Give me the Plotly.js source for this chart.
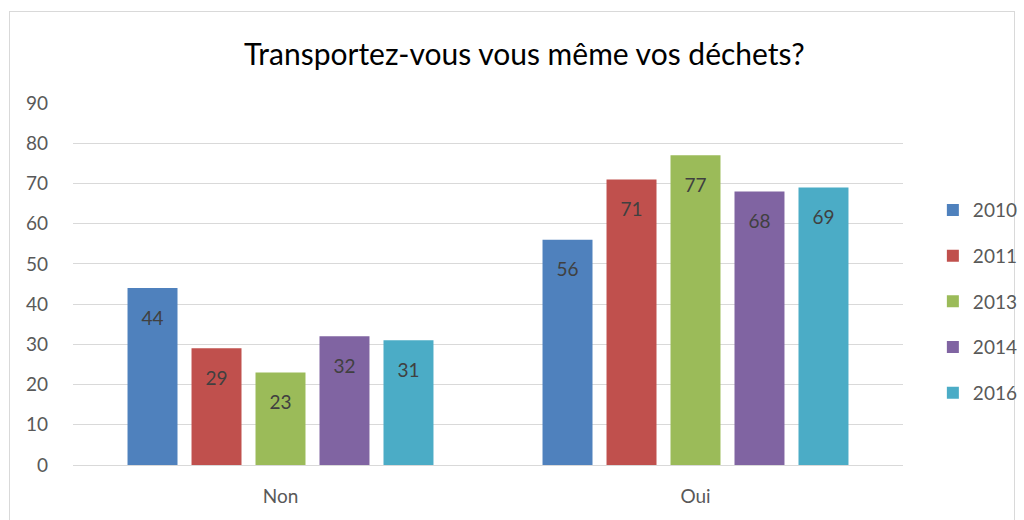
<!DOCTYPE html>
<html>
<head>
<meta charset="utf-8">
<script src="https://cdn.plot.ly/plotly-3.0.1.min.js"></script>
<style>
html,body{margin:0;padding:0;background:#fff;}
#frame{position:absolute;left:9px;top:11px;width:1006px;height:515px;border:1px solid #D9D9D9;box-sizing:border-box;}
#chart{position:absolute;left:0;top:0;width:1024px;height:520px;}
</style>
</head>
<body>
<div id="frame"></div>
<div id="chart"></div>
<script>
const categories = ["Non", "Oui"];
const years = ["2010", "2011", "2013", "2014", "2016"];
const v2010 = [44, 56];
const v2011 = [29, 71];
const v2013 = [23, 77];
const v2014 = [32, 68];
const v2016 = [31, 69];
const seriesValues = [v2010, v2011, v2013, v2014, v2016];
const colors = ["#4F81BD", "#C0504D", "#9BBB59", "#8064A2", "#4BACC6"];
const FONT = "Lato, 'Open Sans', sans-serif";

const traces = years.map((y, i) => ({
  type: "bar",
  name: y,
  x: categories,
  y: seriesValues[i],
  marker: {color: colors[i]},
  texttemplate: "<span style='font-size:9px'>\u00a0</span><br>%{y}",
  textposition: "inside",
  insidetextanchor: "end",
  textangle: 0,
  constraintext: "none",
  textfont: {family: FONT, size: 19, color: "#404040"},
  legendgroup: y,
  hoverinfo: "x+y+name"
}));

const layout = {
  width: 1024, height: 520,
  paper_bgcolor: "rgba(0,0,0,0)",
  plot_bgcolor: "rgba(0,0,0,0)",
  margin: {l: 73, r: 121, t: 103, b: 55},
  title: {text: "Transportez-vous vous même vos déchets?", font: {family: FONT, size: 30, color: "#000000"}, x: 0.512, xanchor: "center", y: 0.895, yanchor: "middle"},
  barmode: "group",
  bargap: 0.229,
  bargroupgap: 0.219,
  xaxis: {
    type: "category",
    tickfont: {family: FONT, size: 19, color: "#595959"},
    showgrid: false, showline: true, linecolor: "#D9D9D9", linewidth: 1,
    ticks: "", ticklabelstandoff: 14
  },
  yaxis: {
    range: [0, 90], dtick: 10, tick0: 0,
    tickfont: {family: FONT, size: 19, color: "#595959"},
    showgrid: true, gridcolor: "#D9D9D9", gridwidth: 1,
    zeroline: false, showline: false, ticks: "",
    ticklabelstandoff: 24
  },
  showlegend: true,
  legend: {
    xref: "container", yref: "container",
    x: 0.911, xanchor: "left", y: 0.42, yanchor: "middle",
    font: {family: FONT, size: 19, color: "#595959"},
    traceorder: "grouped", tracegroupgap: 18,
    itemwidth: 30, bgcolor: "rgba(0,0,0,0)"
  },
  font: {family: FONT}
};

Plotly.newPlot("chart", traces, layout, {displayModeBar: false, staticPlot: true});
</script>
</body>
</html>
